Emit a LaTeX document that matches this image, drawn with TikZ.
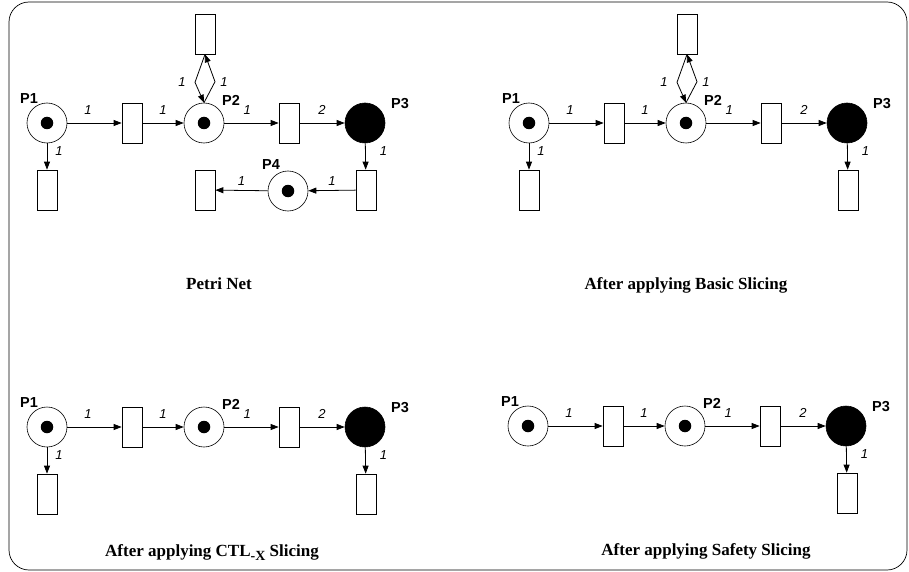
\documentclass[tikz,border=0pt]{standalone}
\usepackage{fontspec}
\setmainfont{Liberation Serif}
\setsansfont{Liberation Sans}
\usetikzlibrary{arrows.meta,petri}

% the part every sliced net keeps
\newcommand{\slicechain}{%
  \node[place,tokens=1,label={[plab,xshift=-18pt,yshift=24pt]center:P1}] (P1) at (47,123) {};
  \node[transition] (T1) at (132,123) {};
  \node[place,tokens=1,label={[plab,xshift=27pt,yshift=23pt]center:P2}] (P2) at (204,123) {};
  \node[transition] (T2) at (289,123) {};
  \node[place,fill=black,label={[plab,xshift=35pt,yshift=19pt]center:P3}] (P3) at (365,123) {};
  \node[transition] (T3) at (366,190) {};
  \path (P1) edge node[lab,pos=0.38,above=8pt] {1} (T1)
        (T1) edge node[lab,above=8pt] {1} (P2)
        (P2) edge node[lab,pos=0.42,above=8pt] {1} (T2)
        (T2) edge node[lab,above=8pt] {2} (P3)
        (P3) edge node[lab,pos=0.3,right=14pt] {1} (T3);
}

\begin{document}
\begin{tikzpicture}[x=1pt,y=-1pt,->,>={Triangle[length=8pt,width=6pt]},line width=0.8pt]
  \tikzstyle{every place}=[draw,circle,minimum size=40pt,inner sep=0pt,line width=0.6pt]
  \tikzstyle{every transition}=[draw,fill=white,minimum width=20pt,minimum height=40pt,inner sep=0pt,line width=0.7pt]
  \tikzstyle{every token}=[fill=black,circle,inner sep=0pt,minimum size=12.5pt]
  \tikzstyle{plab}=[font=\sffamily\bfseries\fontsize{14.5}{16}\selectfont,inner sep=0pt]
  \tikzstyle{lab}=[font=\sffamily\itshape\fontsize{13}{15}\selectfont,inner sep=0pt]
  \tikzstyle{caption}=[font=\bfseries\fontsize{17}{20}\selectfont,anchor=base]

  \useasboundingbox (0,0) rectangle (909,572);
  \draw[-,line width=0.7pt,rounded corners=20pt] (9,2) rectangle (907,570);

  % Petri Net
  \begin{scope}[name prefix=a-]
    \slicechain
    \node[transition] (T0) at (47,190) {};
    \node[transition] (Tl) at (205,34) {};
    \node[place,tokens=1,label={[plab,xshift=-17pt,yshift=26pt]center:P4}] (P4) at (288,191) {};
    \node[transition] (T4) at (205,190) {};
    \path (P1) edge node[lab,pos=0.3,right=8pt] {1} (T0)
          (T3) edge node[lab,above=5pt] {1} (P4)
          (P4) edge node[lab,above=5pt] {1} (T4);
    \draw (P2.north) -- ++(11,-21) node[lab,right=5pt] {1} -- (Tl.south);
    \draw (Tl.south) -- ++(-10,28) node[lab,left=9pt] {1} -- (P2.north);
    \node[caption] (capa) at (219,289) {Petri Net};
  \end{scope}

  % After applying Basic Slicing
  \begin{scope}[shift={(482,0)},name prefix=b-]
    \slicechain
    \node[transition] (T0) at (47,190) {};
    \node[transition] (Tl) at (205,34) {};
    \path (P1) edge node[lab,pos=0.3,right=8pt] {1} (T0);
    \draw (P2.north) -- ++(11,-21) node[lab,right=5pt] {1} -- (Tl.south);
    \draw (Tl.south) -- ++(-10,28) node[lab,left=9pt] {1} -- (P2.north);
    \node[caption] (capb) at (204,289) {After applying Basic Slicing};
  \end{scope}

  % After applying CTL-X Slicing
  \begin{scope}[shift={(0,304)},name prefix=c-]
    \slicechain
    \node[transition] (T0) at (47,190) {};
    \path (P1) edge node[lab,pos=0.3,right=8pt] {1} (T0);
    \node[caption] (capc) at (212,252) {After applying CTL\raisebox{-4.5pt}{\fontsize{14}{14}\selectfont -X} Slicing};
  \end{scope}

  % After applying Safety Slicing
  \begin{scope}[shift={(481,303)},name prefix=d-]
    \slicechain
    \node[caption] (capd) at (225,252) {After applying Safety Slicing};
  \end{scope}
\end{tikzpicture}
\end{document}
